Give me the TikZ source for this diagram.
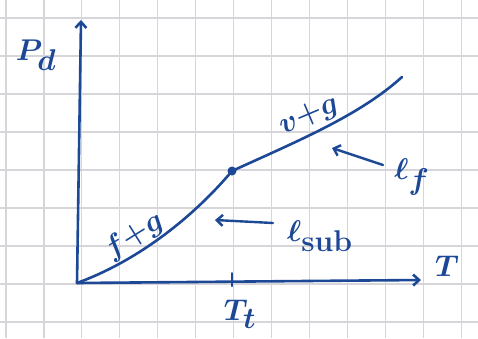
\RequirePackage{fix-cm}
\documentclass[tikz,border=0pt]{standalone}
\usepackage{amsmath}
\usepackage{tikz}
\usetikzlibrary{arrows.meta}
\definecolor{ink}{RGB}{28,72,150}
\definecolor{paper}{RGB}{214,214,218}

\begin{document}
\begin{tikzpicture}[x=1pt,y=-1pt,
    pen/.style={draw=ink, line width=2.6pt, line cap=round},
    pointer/.style={pen, line width=2.4pt, -{Straight Barb[length=6pt,width=11pt]}},
    lbl/.style={text=ink, font=\fontsize{30}{34}\selectfont\boldmath, inner sep=1pt}]
    \useasboundingbox (0,0) rectangle (478,338);
    % squared paper
    \foreach \gx in {6,43.95,...,470} \draw[paper, line width=1.1pt] (\gx,0) -- (\gx,338);
    \foreach \gy in {18,56,...,338} \draw[paper, line width=1.1pt] (0,\gy) -- (478,\gy);

    % axes
    \coordinate (O) at (77,283);
    \coordinate (ytop) at (81,20);
    \coordinate (xend) at (421,280);
    \draw[pointer, line width=2.6pt] (O) -- (ytop);
    \draw[pointer, line width=2.6pt] (O) -- (xend);
    \node[lbl] (pd) at (36,55) {$P_{\textstyle d}$};
    \node[lbl] (tx) at (447,266) {$T$};

    % triple point
    \coordinate (tp) at (232,171);
    \coordinate (tick) at (232,273);
    \coordinate (tfoot) at (232,286);
    \draw[pen, line width=2pt] (tick) -- (tfoot);
    \node[lbl] (tt) at (240,314) {$T_{\textstyle t}$};

    % coexistence curves
    \draw[pen] (O) .. controls (140,260) and (195,215) .. (tp);
    \draw[pen] (tp) .. controls (300,140) and (360,115) .. (402,77);
    \fill[ink] (tp) circle (4.5pt);
    \node[lbl, rotate=32] (fg) at (134,236) {$f{+}g$};
    \node[lbl, rotate=23] (vg) at (309,116) {$v{+}g$};

    % line labels
    \node[lbl] (lf) at (412,177) {$\ell_{\textstyle f}$};
    \coordinate (lfhead) at (332,148);
    \draw[pointer] (383,165) coordinate (lftail) -- (lfhead);
    \node[lbl] (lsub) at (320,236) {$\ell_{\textstyle\mathrm{sub}}$};
    \coordinate (lsubhead) at (215,220);
    \draw[pointer] (273,223) coordinate (lsubtail) -- (lsubhead);
\end{tikzpicture}
\end{document}
